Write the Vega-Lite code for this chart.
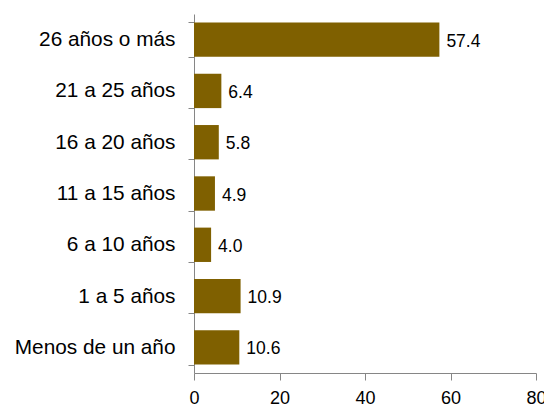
{
  "$schema": "https://vega.github.io/schema/vega-lite/v6.json",
  "autosize": "none",
  "width": 342,
  "height": 359,
  "padding": {"left": 194, "top": 14, "right": 8, "bottom": 36},
  "background": "white",
  "config": {"view": {"stroke": null}, "font": "Liberation Sans"},
  "data": {
    "values": [
      {"cat": "26 años o más", "v": 57.4, "lbl": "57.4"},
      {"cat": "21 a 25 años", "v": 6.4, "lbl": "6.4"},
      {"cat": "16 a 20 años", "v": 5.8, "lbl": "5.8"},
      {"cat": "11 a 15 años", "v": 4.9, "lbl": "4.9"},
      {"cat": "6 a 10 años", "v": 4.0, "lbl": "4.0"},
      {"cat": "1 a 5 años", "v": 10.9, "lbl": "10.9"},
      {"cat": "Menos de un año", "v": 10.6, "lbl": "10.6"}
    ]
  },
  "encoding": {
    "y": {
      "field": "cat", "type": "nominal", "sort": null,
      "scale": {"paddingInner": 0.33, "paddingOuter": 0.165},
      "axis": {
        "title": null, "tickBand": "extent", "tickSize": 6, "labelPadding": 13,
        "labelFontSize": 20.8, "labelColor": "#000000", "domainColor": "#868686",
        "tickColor": "#868686", "labelFont": "Liberation Sans", "grid": false
      }
    },
    "x": {
      "field": "v", "type": "quantitative",
      "scale": {"domain": [0, 80], "nice": false},
      "axis": {
        "title": null, "values": [0, 20, 40, 60, 80], "tickSize": 7, "labelPadding": 9,
        "labelFontSize": 18, "labelColor": "#000000", "domainColor": "#868686",
        "tickColor": "#868686", "grid": false, "labelFlush": false, "labelFont": "Liberation Sans"
      }
    }
  },
  "layer": [
    {"mark": {"type": "bar", "color": "#7F6000"}},
    {
      "mark": {"type": "text", "align": "left", "baseline": "middle", "dx": 7, "dy": 2, "fontSize": 17.5, "color": "#000000", "font": "Liberation Sans"},
      "encoding": {"text": {"field": "lbl"}}
    }
  ]
}
